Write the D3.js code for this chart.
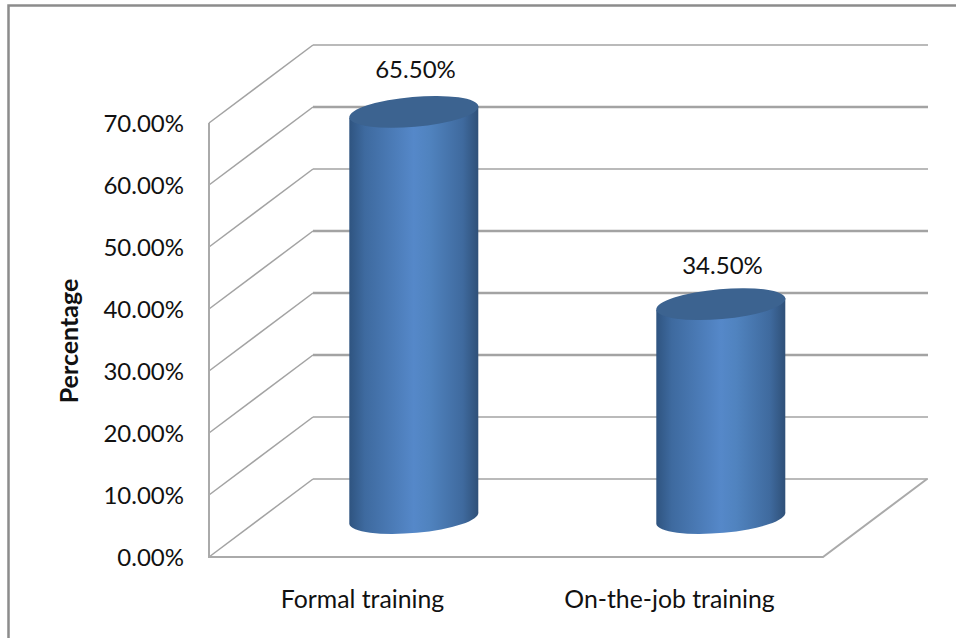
<!DOCTYPE html>
<html><head><meta charset="utf-8">
<script src="https://cdn.jsdelivr.net/npm/d3@7"></script>
<style>html,body{margin:0;padding:0;background:#fff}svg{display:block}</style></head>
<body><svg id="c" width="956" height="638"></svg>
<script>
const categories = ["Formal training", "On-the-job training"];
const values = [65.5, 34.5];
const valueLabels = ["65.50%", "34.50%"];
const yTicks = [0, 10, 20, 30, 40, 50, 60, 70];
const thickGrid = [20, 30, 40, 60];
const yTitle = "Percentage";

const svg = d3.select("#c");
const font = "Lato, 'Open Sans', sans-serif";
const front = {l: 209, r: 823, t: 123, b: 557};
const depth = {x: 104, y: -78};
const labelLift = [34, 30];
const y = d3.scaleLinear().domain([0, 70]).range([front.b, front.t]);
const x = d3.scaleBand().domain(categories).range([front.l, front.r]);

// outer frame
svg.append("path").attr("d", "M8.5,638V5.5H956").attr("fill", "none").attr("stroke", "#8c8c8c").attr("stroke-width", 2.5);

const gridC = "#a3a3a3";
// walls
const grid = svg.append("g").attr("fill", "none").attr("stroke", gridC);
grid.selectAll("path.d").data(yTicks).join("path").attr("class", "d")
  .attr("stroke-width", 1.5)
  .attr("d", d => `M${front.l},${y(d)}L${front.l + depth.x},${y(d) + depth.y}`);
grid.selectAll("path.h").data(yTicks).join("path").attr("class", "h")
  .attr("stroke-width", d => thickGrid.includes(d) ? 2.5 : 1.5)
  .attr("d", d => `M${front.l + depth.x},${y(d) + depth.y}H${front.r + depth.x + 1}`);
grid.append("path").attr("stroke-width", 2).attr("stroke", "#aaa")
  .attr("d", `M${front.l},${front.t}V${front.b}H${front.r}L${front.r + depth.x},${front.b + depth.y}`);

// gradients
const defs = svg.append("defs");
const g = defs.append("linearGradient").attr("id", "cyl");
[[0, "#2f5480"], [0.12, "#3e6a9f"], [0.5, "#5588c9"], [0.62, "#5083bf"], [0.88, "#3f6a9e"], [1, "#2f5078"]]
  .forEach(s => g.append("stop").attr("offset", s[0]).attr("stop-color", s[1]));

// cylinders
const rx = 64.5, ry = 15.5, tilt = 6;
const cy = v => y(v) + depth.y / 2;
const cx = c => x(c) + x.bandwidth() / 2 + depth.x / 2;
const bars = svg.append("g").selectAll("g").data(categories.map((c, i) => ({c, v: values[i], t: valueLabels[i], lift: labelLift[i]}))).join("g");
bars.append("path").attr("fill", "url(#cyl)").attr("d", d => {
  const X = cx(d.c) - 0.7, T = cy(d.v), B = cy(0);
  return `M${X - rx},${T + tilt}V${B + tilt}A${rx},${ry - 0.5} -5 0 0 ${X + rx},${B - tilt}V${T - tilt}Z`;
});
bars.append("ellipse").attr("fill", "#3c6390")
  .attr("rx", rx + 0.3).attr("ry", ry - 0.5)
  .attr("transform", d => `translate(${cx(d.c) - 0.7},${cy(d.v)}) rotate(-5)`);
bars.append("text").attr("x", d => cx(d.c) + 1).attr("y", d => cy(d.v) - d.lift)
  .attr("text-anchor", "middle").attr("font-family", font).attr("font-size", 24).attr("fill", "#111").text(d => d.t);

// axes
const yAxis = svg.append("g").attr("transform", `translate(${front.l},1)`)
  .call(d3.axisLeft(y).tickValues(yTicks).tickSize(0).tickPadding(25).tickFormat(d => d3.format(".2f")(d) + "%"));
const xAxis = svg.append("g").attr("transform", `translate(0,${front.b})`)
  .call(d3.axisBottom(x).tickSize(0).tickPadding(33));
[yAxis, xAxis].forEach(a => a.select(".domain").remove());
yAxis.selectAll("text").attr("font-family", font).attr("font-size", 24).attr("fill", "#111");
xAxis.selectAll("text").attr("font-family", font).attr("font-size", 24.8).attr("fill", "#111");
svg.append("text").attr("transform", "translate(78,341) rotate(-90)").attr("text-anchor", "middle")
  .attr("font-family", font).attr("font-size", 25).attr("font-weight", 700).attr("fill", "#111").text(yTitle);
</script></body></html>
